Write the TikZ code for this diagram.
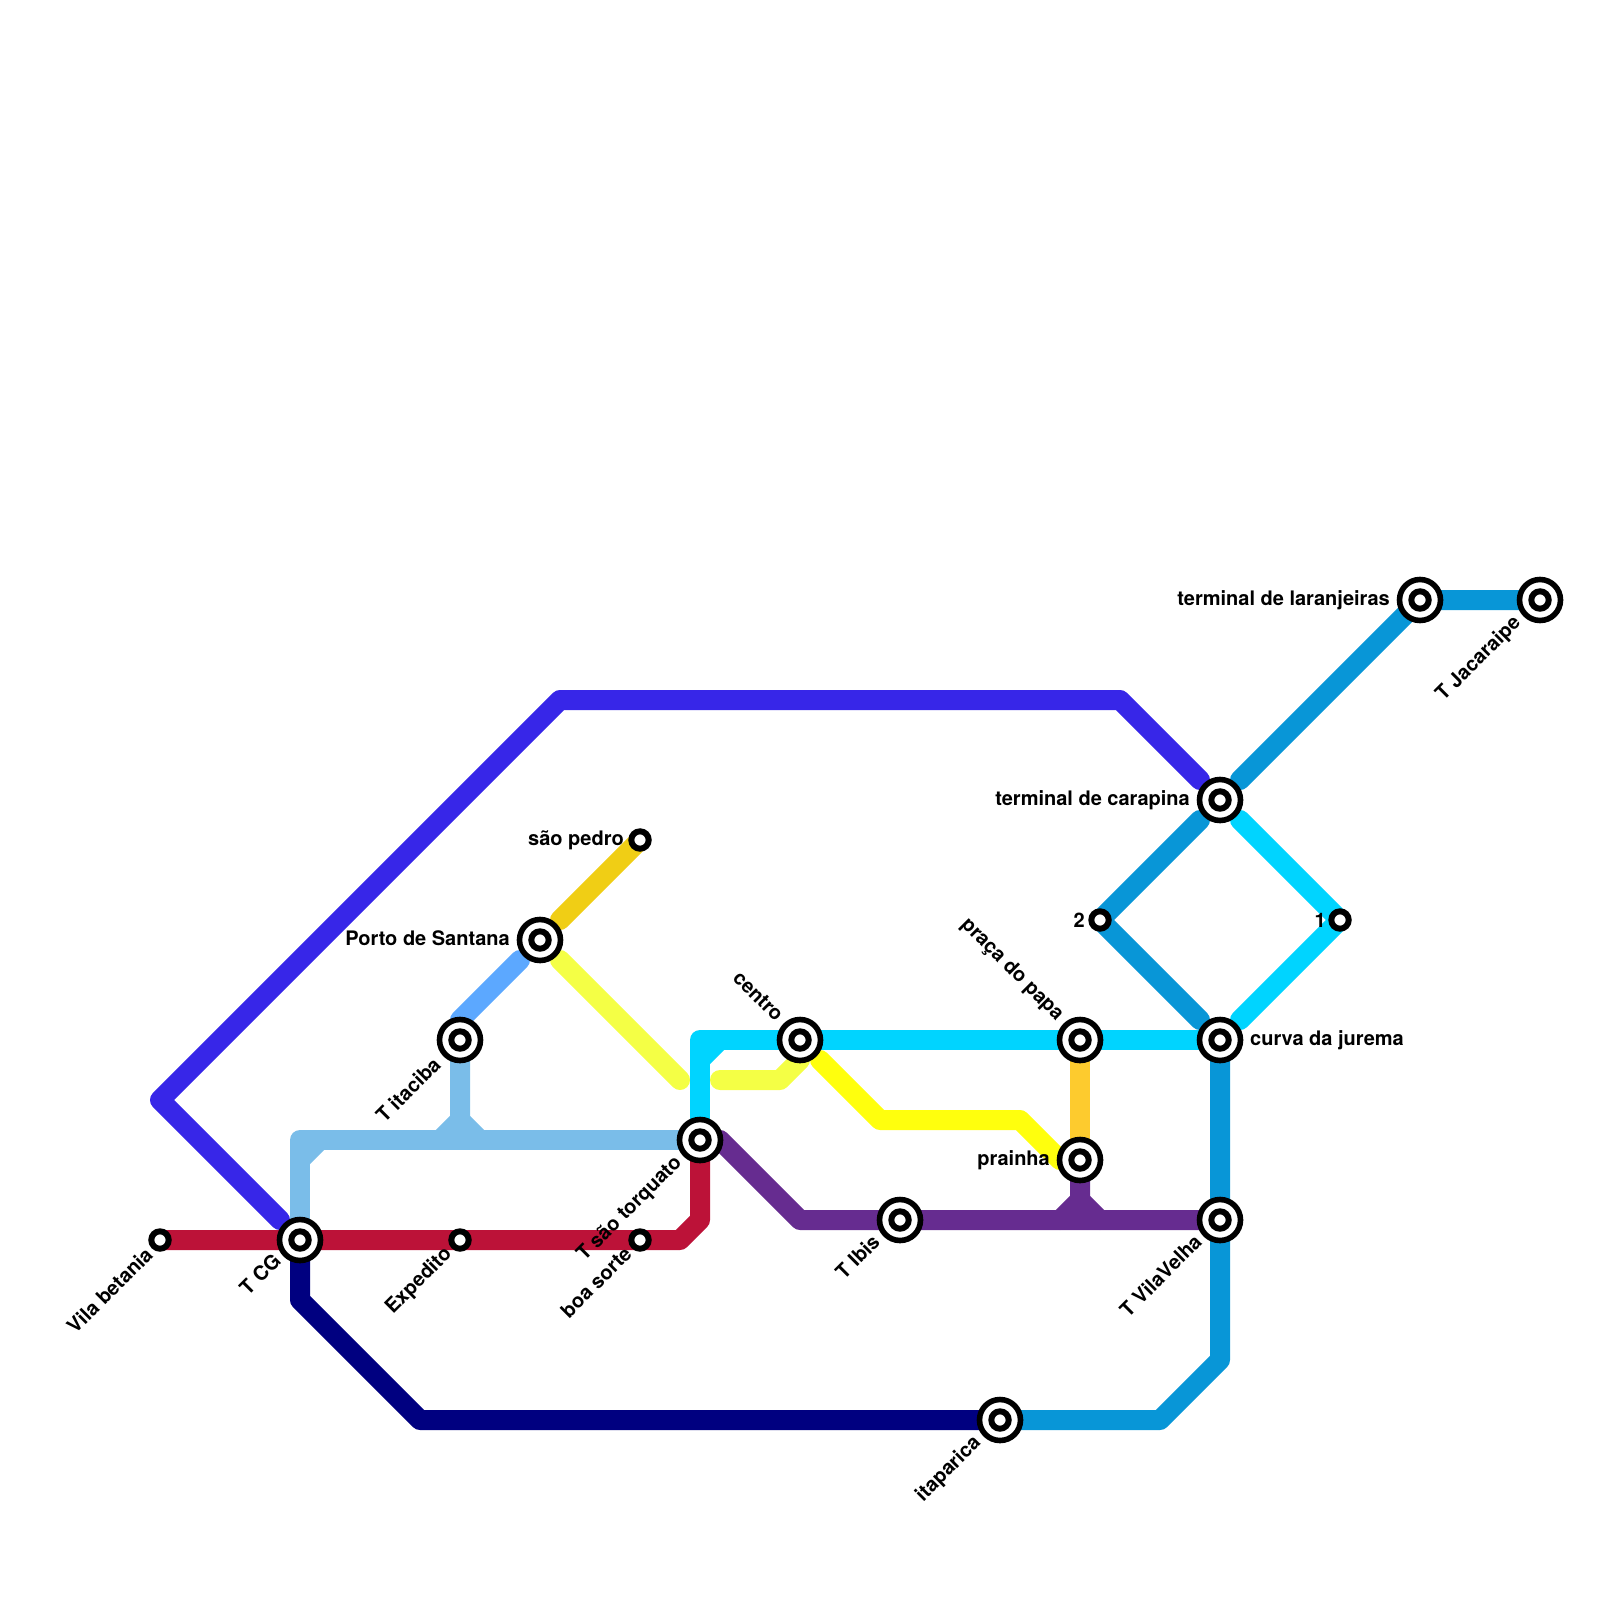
\documentclass[tikz,border=0pt]{standalone}
\usepackage{fontspec}
\setmainfont{TeX Gyre Heros}
\usetikzlibrary{backgrounds}
\definecolor{lineindigo}{RGB}{55,38,232}
\definecolor{linecrimson}{RGB}{188,18,56}
\definecolor{linenavy}{RGB}{0,0,128}
\definecolor{linesky}{RGB}{122,189,233}
\definecolor{linepale}{RGB}{92,168,255}
\definecolor{linegold}{RGB}{240,206,21}
\definecolor{linelemon}{RGB}{244,255,69}
\definecolor{lineyellow}{RGB}{255,255,13}
\definecolor{linecyan}{RGB}{0,212,255}
\definecolor{lineblue}{RGB}{8,150,215}
\definecolor{linepurple}{RGB}{102,44,144}
\definecolor{lineorange}{RGB}{253,203,46}
\tikzset{
  metro/.style={line width=20pt, line cap=round, line join=round},
  terminal/.style={circle, draw=black, line width=5.6pt, fill=white,
                   minimum size=41pt, inner sep=0pt, outer sep=0pt,
                   path picture={\draw[line width=6pt]
                     (path picture bounding box.center) circle (8.7pt);}},
  halt/.style={circle, draw=black, line width=6pt, fill=white,
               minimum size=17.4pt, inner sep=0pt, outer sep=0pt},
  stationname/.style={font=\fontsize{20}{20}\selectfont\bfseries, inner sep=0pt},
}
\begin{document}
\begin{tikzpicture}[x=20pt,y=-20pt]
  \path[use as bounding box] (0,0) rectangle (80,80);

  % stations
  \node[halt] (betania) at (8,62) {};
  \node[terminal] (tcg) at (15,62) {};
  \node[halt] (expedito) at (23,62) {};
  \node[halt] (boasorte) at (32,62) {};
  \node[terminal] (itaciba) at (23,52) {};
  \node[terminal] (santana) at (27,47) {};
  \node[halt] (saopedro) at (32,42) {};
  \node[terminal] (torquato) at (35,57) {};
  \node[terminal] (centro) at (40,52) {};
  \node[terminal] (ibis) at (45,61) {};
  \node[terminal] (papa) at (54,52) {};
  \node[terminal] (prainha) at (54,58) {};
  \node[terminal] (jurema) at (61,52) {};
  \node[terminal] (vilavelha) at (61,61) {};
  \node[terminal] (itaparica) at (50,71) {};
  \node[terminal] (carapina) at (61,40) {};
  \node[terminal] (laranjeiras) at (71,30) {};
  \node[terminal] (jacaraipe) at (77,30) {};
  \node[halt] (halt1) at (67,46) {};
  \node[halt] (halt2) at (55,46) {};

  % line ends next to the stations
  \coordinate (tcgNW) at (14,61);
  \coordinate (carapinaNW) at (60,39);
  \coordinate (carapinaNE) at (62,39);
  \coordinate (carapinaSW) at (60,41);
  \coordinate (carapinaSE) at (62,41);
  \coordinate (juremaNW) at (60,51);
  \coordinate (juremaNE) at (62,51);
  \coordinate (torquatoE) at (36,57);
  \coordinate (santanaNE) at (28,46);
  \coordinate (santanaSE) at (28,48);
  \coordinate (santanaSW) at (26,48);
  \coordinate (lemonend) at (34,54);
  \coordinate (lemonstart) at (36,54);
  \coordinate (centroSE) at (41,53);
  \coordinate (prainhaW) at (53,58);
  \coordinate (gridS) at (54,60);
  \coordinate (itacibaS) at (23,56);

  \begin{pgfonlayer}{background}
    \draw[metro, lineindigo] (tcgNW) -- (8,55) -- (28,35) -- (56,35) -- (carapinaNW);
    \draw[metro, linecrimson] (betania.center) -- (34,62) -- (35,61) -- (torquato.center);
    \draw[metro, linenavy] (tcg.center) -- (15,65) -- (21,71) -- (itaparica.center);
    \draw[metro, linesky] (tcg.center) -- (15,57) -- (torquato.center);
    \draw[metro, linesky] (15,58) -- (16,57);
    \draw[metro, linesky] (itaciba.center) -- (itacibaS) -- (22,57);
    \draw[metro, linesky] (itacibaS) -- (24,57);
    \draw[metro, linepale] (itaciba.center) -- (23,51) -- (santanaSW);
    \draw[metro, linegold] (santanaNE) -- (saopedro.center);
    \draw[metro, linelemon] (santanaSE) -- (lemonend);
    \draw[metro, linelemon] (lemonstart) -- (39,54) -- (40,53) -- (centro.center);
    \draw[metro, lineyellow] (centroSE) -- (44,56) -- (51,56) -- (prainhaW);
    \draw[metro, linecyan] (torquato.center) -- (35,52) -- (jurema.center);
    \draw[metro, linecyan] (35,53) -- (36,52);
    \draw[metro, linecyan] (carapinaSE) -- (halt1.center) -- (juremaNE);
    \draw[metro, lineorange] (papa.center) -- (prainha.center);
    \draw[metro, linepurple] (torquatoE) -- (40,61) -- (vilavelha.center);
    \draw[metro, linepurple] (prainha.center) -- (gridS) -- (53,61);
    \draw[metro, linepurple] (gridS) -- (55,61);
    \draw[metro, lineblue] (carapinaSW) -- (halt2.center) -- (juremaNW);
    \draw[metro, lineblue] (jurema.center) -- (61,68) -- (58,71) -- (itaparica.center);
    \draw[metro, lineblue] (carapinaNE) -- (laranjeiras.center) -- (jacaraipe.center);
  \end{pgfonlayer}

  % station names
  \node[stationname, anchor=east, rotate=45] (betanianame) at (7.45,62.55) {Vila betania};
  \node[stationname, anchor=east, rotate=45] (tcgname) at (13.85,62.85) {T CG};
  \node[stationname, anchor=east, rotate=45] (expeditoname) at (22.45,62.55) {Expedito};
  \node[stationname, anchor=east, rotate=45] (boasortename) at (31.4,62.5) {boa sorte};
  \node[stationname, anchor=east, rotate=45] (itacibaname) at (21.85,53.05) {T itaciba};
  \node[stationname, anchor=east] (santananame) at (25.5,46.9) {Porto de Santana};
  \node[stationname, anchor=east] (saopedroname) at (31.2,42) {são pedro};
  \node[stationname, anchor=east, rotate=45] (torquatoname) at (33.95,58.0) {T são torquato};
  \node[stationname, anchor=east, rotate=-45] (centroname) at (39.0,50.9) {centro};
  \node[stationname, anchor=east, rotate=45] (ibisname) at (43.8,61.9) {T Ibis};
  \node[stationname, anchor=east, rotate=-45] (papaname) at (53.0,50.9) {praça do papa};
  \node[stationname, anchor=east] (prainhaname) at (52.5,58) {prainha};
  \node[stationname, anchor=west] (juremaname) at (62.5,52) {curva da jurema};
  \node[stationname, anchor=east, rotate=45] (vilavelhaname) at (59.9,61.9) {T VilaVelha};
  \node[stationname, anchor=east, rotate=45] (itaparicaname) at (48.9,72.0) {itaparica};
  \node[stationname, anchor=east] (carapinaname) at (59.5,40) {terminal de carapina};
  \node[stationname, anchor=east] (laranjeirasname) at (69.5,30) {terminal de laranjeiras};
  \node[stationname, anchor=east, rotate=45] (jacaraipename) at (75.9,31.0) {T Jacaraipe};
  \node[stationname, anchor=east] (halt1name) at (66.3,46) {1};
  \node[stationname, anchor=east] (halt2name) at (54.25,46) {2};
\end{tikzpicture}
\end{document}
